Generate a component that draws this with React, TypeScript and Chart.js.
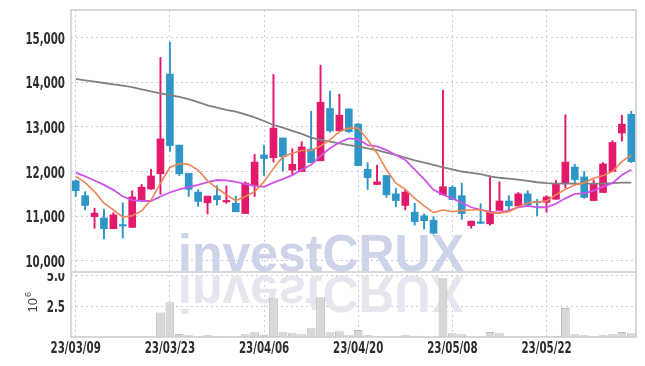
import { useEffect, useRef } from 'react';
import { Chart, registerables } from 'chart.js';

Chart.register(...registerables);

const dates = [
  '23/03/09', '23/03/10', '23/03/13', '23/03/14', '23/03/15', '23/03/16', '23/03/17', '23/03/20', '23/03/21', '23/03/22',
  '23/03/23', '23/03/24', '23/03/27', '23/03/28', '23/03/29', '23/03/30', '23/03/31', '23/04/03', '23/04/04', '23/04/05',
  '23/04/06', '23/04/07', '23/04/10', '23/04/11', '23/04/12', '23/04/13', '23/04/14', '23/04/17', '23/04/18', '23/04/19',
  '23/04/20', '23/04/21', '23/04/24', '23/04/25', '23/04/26', '23/04/27', '23/04/28', '23/05/02', '23/05/03', '23/05/04',
  '23/05/08', '23/05/09', '23/05/10', '23/05/11', '23/05/12', '23/05/15', '23/05/16', '23/05/17', '23/05/18', '23/05/19',
  '23/05/22', '23/05/23', '23/05/24', '23/05/25', '23/05/26', '23/05/30', '23/05/31', '23/06/01', '23/06/02', '23/06/05',
];

const openPrices = [
  11790, 11460, 10990, 10960, 10720, 10800, 10750, 11370, 11610, 11950,
  14180, 12590, 11960, 11540, 11300, 11460, 11320, 11290, 11060, 11680,
  12370, 12310, 12750, 12030, 12000, 12500, 12240, 13410, 12910, 13400,
  13060, 12050, 11710, 11910, 11500, 11240, 11090, 11010, 10910, 11480,
  11650, 11460, 10790, 10870, 10830, 11130, 11340, 11230, 11500, 11330,
  11310, 11380, 11740, 12100, 11880, 11350, 11530, 12000, 12860, 13280,
];

const closePrices = [
  11570, 11240, 11070, 10720, 11030, 10780, 11430, 11650, 11900, 12730,
  12580, 11950, 11600, 11330, 11450, 11370, 11350, 11100, 11740, 12210,
  12290, 12970, 12330, 12160, 12550, 12200, 13550, 12910, 13260, 12890,
  12130, 11860, 11770, 11480, 11350, 11540, 10880, 10900, 10620, 11660,
  11370, 11060, 10890, 10840, 11090, 11340, 11230, 11500, 11250, 11300,
  11430, 11720, 12210, 11820, 11420, 11720, 12170, 12650, 13060, 12220,
];

const highPrices = [
  11810, 11550, 11180, 11160, 11080, 11300, 11570, 11710, 12050, 14550,
  14890, 12590, 11960, 11590, 11450, 11680, 11680, 11450, 11770, 12380,
  12590, 14170, 12750, 12510, 12670, 13350, 14380, 13800, 13730, 13410,
  13080, 12200, 12140, 11910, 11620, 11590, 11290, 11050, 10990, 13820,
  11680, 11740, 10890, 11280, 11900, 11770, 11460, 11530, 11570, 11380,
  11460, 11800, 13270, 12160, 12000, 11810, 12200, 12690, 13260, 13350,
];

const lowPrices = [
  11440, 11140, 10730, 10490, 10720, 10510, 10750, 11370, 11600, 11490,
  12450, 11910, 11440, 11220, 11050, 11250, 11290, 11100, 11060, 11440,
  11910, 12210, 12010, 11910, 12000, 12200, 12240, 12880, 12910, 12870,
  12130, 11600, 11710, 11420, 11210, 11140, 10800, 10710, 10600, 11480,
  11370, 10930, 10730, 10840, 10800, 11130, 11100, 11230, 11220, 11010,
  11090, 11380, 11630, 11700, 11400, 11350, 11530, 12000, 12680, 12200,
];

const ma5 = [
  11890, 11750, 11550, 11290, 11140, 10980, 11010, 11120, 11360, 11740,
  12090, 12180, 12160, 12030, 11790, 11630, 11480, 11350, 11440, 11550,
  11770, 12070, 12330, 12410, 12470, 12470, 12570, 12710, 12890, 12970,
  12970, 12710, 12410, 12040, 11740, 11600, 11400, 11230, 11080, 11140,
  11100, 11130, 11140, 11150, 11080, 11070, 11100, 11210, 11300, 11320,
  11340, 11480, 11600, 11700, 11750, 11850, 11910, 12000, 12220, 12370,
];

const ma10 = [
  11975, 11890, 11800, 11700, 11590, 11440, 11360, 11340, 11340, 11440,
  11530, 11600, 11650, 11700, 11760, 11810, 11800, 11770, 11720, 11680,
  11660, 11750, 11830, 11920, 12040, 12150, 12350, 12520, 12650, 12740,
  12720, 12590, 12560, 12480, 12370, 12260, 12040, 11830, 11590, 11480,
  11400, 11300, 11200, 11140, 11100, 11080, 11130, 11200, 11230, 11200,
  11200, 11280, 11400, 11500, 11510, 11570, 11660, 11740, 11920, 12040,
];

const maLong = [
  14070, 14040, 14010, 13980, 13950, 13920, 13890, 13840, 13790, 13750,
  13710, 13670, 13620, 13550, 13480, 13430, 13380, 13340, 13280, 13210,
  13130, 13040, 12980, 12910, 12840, 12760, 12710, 12670, 12630, 12590,
  12560, 12520, 12480, 12420, 12370, 12310, 12250, 12200, 12150, 12090,
  12050, 12000, 11970, 11940, 11890, 11860, 11840, 11820, 11790, 11760,
  11740, 11730, 11730, 11730, 11730, 11730, 11730, 11740, 11750, 11750,
];

// volume in millions of shares
const volumes = [
  0.05, 0.05, 0.05, 0.05, 0.05, 0.05, 0.05, 0.05, 0.05, 2.0,
  2.83, 0.24, 0.14, 0.05, 0.14, 0.08, 0.05, 0.05, 0.22, 0.38,
  0.19, 3.15, 0.38, 0.3, 0.22, 0.71, 3.23, 0.38, 0.46, 0.14,
  0.56, 0.14, 0.05, 0.04, 0.04, 0.14, 0.11, 0.03, 0.03, 4.78,
  0.3, 0.22, 0.03, 0.03, 0.41, 0.3, 0.05, 0.04, 0.04, 0.04,
  0.04, 0.11, 2.36, 0.22, 0.14, 0.05, 0.14, 0.22, 0.41, 0.3,
];

const priceTicks = [10000, 11000, 12000, 13000, 14000, 15000];
const volumeTicks = [2.5, 5.0];
const volumeUnit = '10';
const volumeExponent = '6';
const watermarkText = 'investCRUX';

export default function App() {
  const ref = useRef<HTMLCanvasElement>(null);

  useEffect(() => {
    document.body.style.margin = '0';
    const canvas = ref.current;
    if (!canvas) return;

    const upColor = '#e3196b';
    const downColor = '#2f97c8';
    const candleColors = openPrices.map((o, i) => (closePrices[i] >= o ? upColor : downColor));
    const gridColor = '#c9cbdd';
    const labelFont = 'bold 15px "DejaVu Sans Condensed", "DejaVu Sans", sans-serif';
    const labelColor = '#2e2e2e';
    const squeeze = 0.76;

    const drawLabel = (ctx: CanvasRenderingContext2D, text: string, x: number, y: number, align: CanvasTextAlign) => {
      ctx.save();
      ctx.translate(x, y);
      ctx.scale(squeeze, 1);
      ctx.textAlign = align;
      ctx.textBaseline = 'middle';
      ctx.fillText(text, 0, 0);
      ctx.restore();
    };

    const watermark = {
      id: 'watermark',
      beforeDatasetsDraw(chart: any) {
        const ctx = chart.ctx as CanvasRenderingContext2D;
        const ca = chart.chartArea;
        const sep = chart.scales.y.bottom;
        ctx.save();
        ctx.beginPath();
        ctx.rect(ca.left, ca.top, ca.right - ca.left, ca.bottom - ca.top);
        ctx.clip();
        ctx.font = 'bold 52px "Liberation Sans", Arial, sans-serif';
        ctx.textBaseline = 'alphabetic';
        ctx.textAlign = 'left';
        const w = ctx.measureText(watermarkText).width;
        const target = 286;
        const sx = target / w;
        const left = 321 - target / 2;
        ctx.save();
        ctx.translate(left, sep - 1.5);
        ctx.scale(sx, 1);
        ctx.fillStyle = '#cdd3e8';
        ctx.fillText(watermarkText, 0, 0);
        ctx.restore();
        ctx.save();
        ctx.translate(left, sep + 4);
        ctx.scale(sx, -1);
        ctx.fillStyle = '#e6e6ef';
        ctx.fillText(watermarkText, 0, 0);
        ctx.restore();
        ctx.restore();
      },
    };

    const frame = {
      id: 'frame',
      afterDraw(chart: any) {
        const ctx = chart.ctx as CanvasRenderingContext2D;
        const ca = chart.chartArea;
        const sep = chart.scales.y.bottom;
        ctx.save();
        ctx.strokeStyle = '#cccccc';
        ctx.lineWidth = 1.5;
        ctx.beginPath();
        ctx.moveTo(ca.left, ca.top);
        ctx.lineTo(ca.right, ca.top);
        ctx.lineTo(ca.right, ca.bottom);
        ctx.lineTo(ca.left, ca.bottom);
        ctx.closePath();
        ctx.moveTo(ca.left, sep);
        ctx.lineTo(ca.right, sep);
        ctx.stroke();

        // tick labels
        ctx.fillStyle = labelColor;
        ctx.font = labelFont;
        const xs = chart.scales.x;
        for (const t of xs.ticks) {
          drawLabel(ctx, dates[t.value], xs.getPixelForValue(t.value), ca.bottom + 12, 'center');
        }
        const ys = chart.scales.y;
        for (const v of priceTicks) {
          drawLabel(ctx, v.toLocaleString('en-US'), ca.left - 6, ys.getPixelForValue(v) + 2.3, 'right');
        }
        const y2 = chart.scales.y2;
        ctx.save();
        ctx.beginPath();
        ctx.rect(0, sep + 1, ca.left, ca.bottom - sep);
        ctx.clip();
        for (const v of volumeTicks) {
          drawLabel(ctx, v.toFixed(1), ca.left - 6, y2.getPixelForValue(v) + 1.5, 'right');
        }
        ctx.restore();

        // volume unit title
        const midY = (y2.top + y2.bottom) / 2;
        ctx.fillStyle = '#444444';
        ctx.translate(37, midY + 8);
        ctx.rotate(-Math.PI / 2);
        ctx.textAlign = 'left';
        ctx.textBaseline = 'alphabetic';
        ctx.font = '13px "Liberation Sans", Arial, sans-serif';
        ctx.fillText(volumeUnit, 0, 0);
        const w = ctx.measureText(volumeUnit).width;
        ctx.font = '9px "Liberation Sans", Arial, sans-serif';
        ctx.fillText(volumeExponent, w + 1, -6);
        ctx.restore();
      },
    };

    const noPad = (scale: any) => {
      scale.paddingTop = 0;
      scale.paddingBottom = 0;
    };

    const chart = new Chart(canvas, {
      type: 'bar',
      data: {
        labels: dates,
        datasets: [
          {
            type: 'line',
            data: ma5,
            borderColor: '#ee8552',
            borderWidth: 1.6,
            pointRadius: 0,
            tension: 0,
            yAxisID: 'y',
            order: 0,
          } as any,
          {
            type: 'line',
            data: ma10,
            borderColor: '#cc55e8',
            borderWidth: 1.8,
            pointRadius: 0,
            tension: 0,
            yAxisID: 'y',
            order: 1,
          } as any,
          {
            type: 'line',
            data: maLong,
            borderColor: '#808080',
            borderWidth: 1.8,
            pointRadius: 0,
            tension: 0,
            yAxisID: 'y',
            order: 2,
          } as any,
          {
            type: 'bar',
            data: openPrices.map((o, i) => [Math.min(o, closePrices[i]), Math.max(o, closePrices[i])]),
            backgroundColor: candleColors,
            barThickness: 7,
            minBarLength: 1.5,
            grouped: false,
            yAxisID: 'y',
            order: 3,
          } as any,
          {
            type: 'bar',
            data: lowPrices.map((l, i) => [l, highPrices[i]]),
            backgroundColor: candleColors,
            barThickness: 1.3,
            grouped: false,
            yAxisID: 'y',
            order: 4,
          } as any,
          {
            type: 'bar',
            data: volumes,
            backgroundColor: '#d8d8d8',
            borderColor: '#bdbdbd',
            borderWidth: 1,
            barPercentage: 1,
            categoryPercentage: 0.93,
            grouped: false,
            yAxisID: 'y2',
            order: 5,
          } as any,
        ],
      },
      options: {
        responsive: false,
        animation: false,
        layout: { padding: { top: 10, right: 9, left: 0, bottom: 0 } },
        plugins: { legend: { display: false }, tooltip: { enabled: false } },
        scales: {
          x: {
            type: 'category',
            offset: true,
            grid: { offset: false, color: gridColor, drawTicks: false, lineWidth: 1 },
            border: { display: false, dash: [2, 3] },
            ticks: { display: false, autoSkip: false, maxRotation: 0 },
            afterBuildTicks(scale: any) {
              scale.ticks = scale.ticks.filter((t: any) => t.value % 10 === 0);
            },
            afterFit(scale: any) {
              scale.height = 29;
              scale.paddingLeft = 0;
              scale.paddingRight = 0;
            },
          },
          y2: {
            type: 'linear',
            position: 'left',
            stack: 'panes',
            stackWeight: 65,
            min: 0,
            max: 5.28,
            grid: { color: gridColor, drawTicks: false },
            border: { display: false, dash: [2, 3] },
            ticks: { display: false },
            afterBuildTicks(scale: any) {
              scale.ticks = volumeTicks.map((v) => ({ value: v }));
            },
            afterFit(scale: any) {
              scale.width = 71;
              noPad(scale);
            },
          },
          y: {
            type: 'linear',
            position: 'left',
            stack: 'panes',
            stackWeight: 262,
            min: 9752,
            max: 15613,
            grid: { color: gridColor, drawTicks: false },
            border: { display: false, dash: [2, 3] },
            ticks: { display: false },
            afterBuildTicks(scale: any) {
              scale.ticks = priceTicks.map((v) => ({ value: v }));
            },
            afterFit(scale: any) {
              scale.width = 71;
              noPad(scale);
            },
          },
        },
      },
      plugins: [watermark, frame],
    } as any);

    return () => chart.destroy();
  }, []);

  return (
    <div style={{ position: 'absolute', left: 0, top: 0, width: 645, height: 366 }}>
      <canvas ref={ref} width={645} height={366} style={{ display: 'block', width: 645, height: 366 }} />
    </div>
  );
}
